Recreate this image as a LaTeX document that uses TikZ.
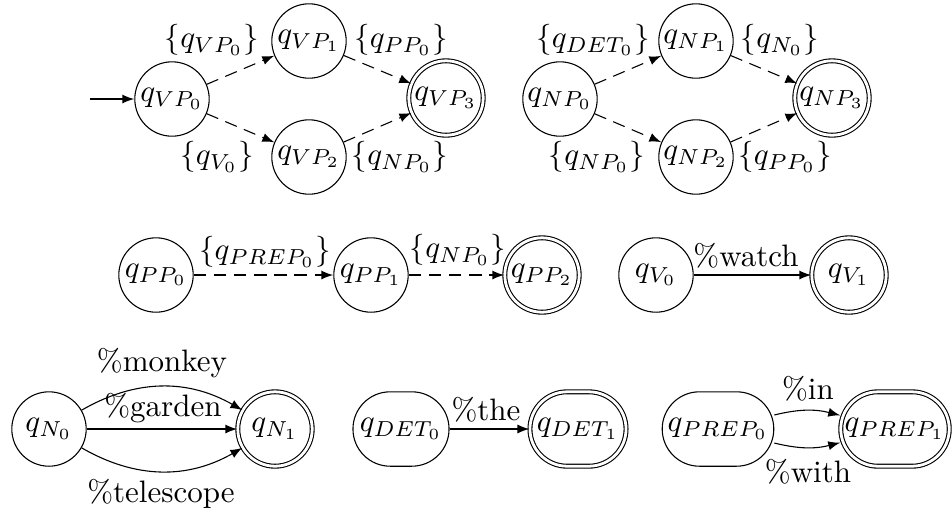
\documentclass[tikz,border=0pt]{standalone}
\usetikzlibrary{arrows}
\begin{document}
\begin{tikzpicture}[x=0.3226pt,y=-0.3226pt,line width=0.35pt,
  st/.style={circle,draw,minimum size=24pt,inner sep=0pt},
  acc/.style={st,double,double distance=0.9pt},
  rst/.style={rectangle,rounded corners=12pt,draw,minimum height=24pt,inner sep=0pt},
  racc/.style={rst,double,double distance=0.9pt},
  dedge/.style={dash pattern=on 4pt off 2.5pt,-latex},
  sedge/.style={-latex},
  lbl/.style={inner sep=0pt}]
\useasboundingbox (0,0) rectangle (952,514);
% top left
\node[st] (VP0) at (172,99) {$q_{VP_0}$};
\node[st] (VP1) at (309,41) {$q_{VP_1}$};
\node[st] (VP2) at (309,157) {$q_{VP_2}$};
\node[acc] (VP3) at (446,98) {$q_{VP_3}$};
\coordinate (init) at (90,99);
\draw[sedge] (init) -- (VP0);
\draw[dedge] (VP0) -- (VP1);
\draw[dedge] (VP0) -- (VP2);
\draw[dedge] (VP1) -- (VP3);
\draw[dedge] (VP2) -- (VP3);
\node[lbl] (l1) at (212,40) {$\{q_{VP_0}\}$};
\node[lbl] (l2) at (401,40) {$\{q_{PP_0}\}$};
\node[lbl] (l3) at (217,157) {$\{q_{V_0}\}$};
\node[lbl] (l4) at (400,157) {$\{q_{NP_0}\}$};
% top right
\node[st] (NP0) at (560,99) {$q_{NP_0}$};
\node[st] (NP1) at (696,41) {$q_{NP_1}$};
\node[st] (NP2) at (696,157) {$q_{NP_2}$};
\node[acc] (NP3) at (832,98) {$q_{NP_3}$};
\draw[dedge] (NP0) -- (NP1);
\draw[dedge] (NP0) -- (NP2);
\draw[dedge] (NP1) -- (NP3);
\draw[dedge] (NP2) -- (NP3);
\node[lbl] (l5) at (593,40) {$\{q_{DET_0}\}$};
\node[lbl] (l6) at (780,40) {$\{q_{N_0}\}$};
\node[lbl] (l7) at (597,157) {$\{q_{NP_0}\}$};
\node[lbl] (l8) at (785,157) {$\{q_{PP_0}\}$};
% middle
\node[st] (PP0) at (156,275) {$q_{PP_0}$};
\node[st] (PP1) at (371,275) {$q_{PP_1}$};
\node[acc] (PP2) at (542,275) {$q_{PP_2}$};
\draw[dedge] (PP0) -- (PP1);
\draw[dedge] (PP1) -- (PP2);
\node[lbl] (l9) at (265,252) {$\{q_{PREP_0}\}$};
\node[lbl] (l10) at (458,250) {$\{q_{NP_0}\}$};
\node[st] (V0) at (656,275) {$q_{V_0}$};
\node[acc] (V1) at (849,275) {$q_{V_1}$};
\draw[sedge] (V0) -- (V1);
\node[lbl] (l11) at (746,256) {\%watch};
% bottom
\node[st] (N0) at (49,429) {$q_{N_0}$};
\node[acc] (N1) at (275,429) {$q_{N_1}$};
\draw[sedge] (N0) to[bend left=30] (N1);
\draw[sedge] (N0) -- (N1);
\draw[sedge] (N0) to[bend right=30] (N1);
\node[lbl] (l12) at (162,363) {\%monkey};
\node[lbl] (l13) at (163,408) {\%garden};
\node[lbl] (l14) at (161,494) {\%telescope};
\node[rst,minimum width=31pt] (DET0) at (401,429) {$q_{DET_0}$};
\node[racc,minimum width=31pt] (DET1) at (578,429) {$q_{DET_1}$};
\draw[sedge] (DET0) -- (DET1);
\node[lbl] (l15) at (486,410) {\%the};
\node[rst,minimum width=36pt] (PREP0) at (718,429) {$q_{PREP_0}$};
\node[racc,minimum width=35pt] (PREP1) at (895,429) {$q_{PREP_1}$};
\draw[sedge] (PREP0) to[bend left=14] (PREP1);
\draw[sedge] (PREP0) to[bend right=14] (PREP1);
\node[lbl] (l16) at (808,389) {\%in};
\node[lbl] (l17) at (808,472) {\%with};
\end{tikzpicture}
\end{document}
